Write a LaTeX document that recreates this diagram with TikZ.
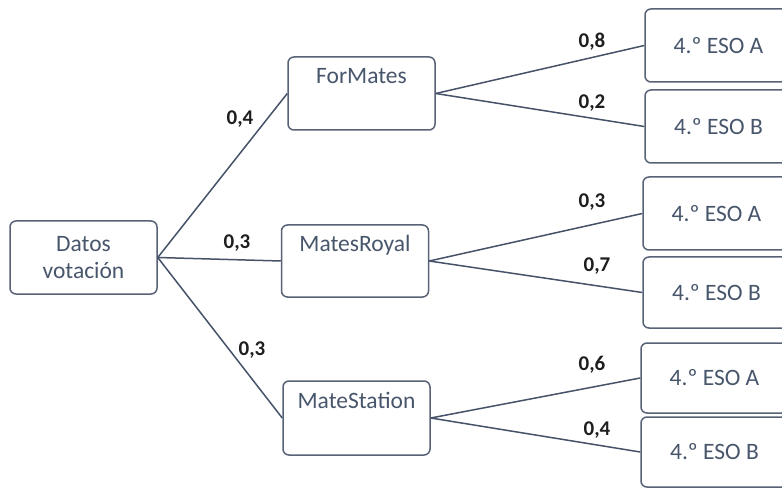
\documentclass[tikz,border=0pt]{standalone}
\usepackage{fontspec}
\setmainfont{Carlito}
\definecolor{boxline}{RGB}{88,98,118}
\definecolor{boxtext}{RGB}{72,86,108}
\definecolor{edgecol}{RGB}{70,82,104}
\definecolor{labcol}{RGB}{30,30,30}
\begin{document}
\begin{tikzpicture}[x=1pt,y=-1pt,
  treebox/.style={draw=boxline, line width=1.5pt, rounded corners=6pt, fill=white,
    minimum width=147pt, minimum height=73pt, inner sep=0pt, text=boxtext,
    font=\fontsize{23.5}{27}\selectfont, align=center},
  leafbox/.style={treebox},
  conn/.style={draw=edgecol, line width=1.5pt},
  prob/.style={font=\fontsize{21}{24}\selectfont\bfseries, text=labcol, inner sep=0pt}]
\useasboundingbox (0,0) rectangle (782,489);
% nodes
\node[treebox] (dv) at (83.5,257.5) {Datos\\votación};
\node[treebox] (fm) at (361.5,93.5) {ForMates\\[8pt]\mbox{}};
\node[treebox, minimum height=72pt] (mr) at (355,261) {MatesRoyal\\[8pt]\mbox{}};
\node[treebox, minimum height=74pt] (ms) at (356.5,418) {MateStation\\[8pt]\mbox{}};
\node[leafbox] (a1) at (718.5,45.5) {4.º ESO A};
\node[leafbox] (b1) at (718.5,126.5) {4.º ESO B};
\node[leafbox, minimum height=73pt] (a2) at (716.5,213.5) {4.º ESO A};
\node[leafbox, minimum height=71pt] (b2) at (716.5,292.5) {4.º ESO B};
\node[leafbox, minimum height=70pt] (a3) at (714.5,378) {4.º ESO A};
\node[leafbox, minimum height=70pt] (b3) at (714.5,452) {4.º ESO B};
% connectors
\draw[conn] (dv.east) -- (fm.west);
\draw[conn] (dv.east) -- (mr.west);
\draw[conn] (dv.east) -- (ms.west);
\draw[conn] (fm.east) -- (a1.west);
\draw[conn] (fm.east) -- (b1.west);
\draw[conn] (mr.east) -- (a2.west);
\draw[conn] (mr.east) -- (b2.west);
\draw[conn] (ms.east) -- (a3.west);
\draw[conn] (ms.east) -- (b3.west);
% probabilities
\node[prob] (p1) at (240,119) {0,4};
\node[prob] (p2) at (237,243) {0,3};
\node[prob] (p3) at (252,350) {0,3};
\node[prob] (p4) at (592,42) {0,8};
\node[prob] (p5) at (592,103) {0,2};
\node[prob] (p6) at (592,202) {0,3};
\node[prob] (p7) at (597,266) {0,7};
\node[prob] (p8) at (592,365) {0,6};
\node[prob] (p9) at (597,430) {0,4};
\end{tikzpicture}
\end{document}
